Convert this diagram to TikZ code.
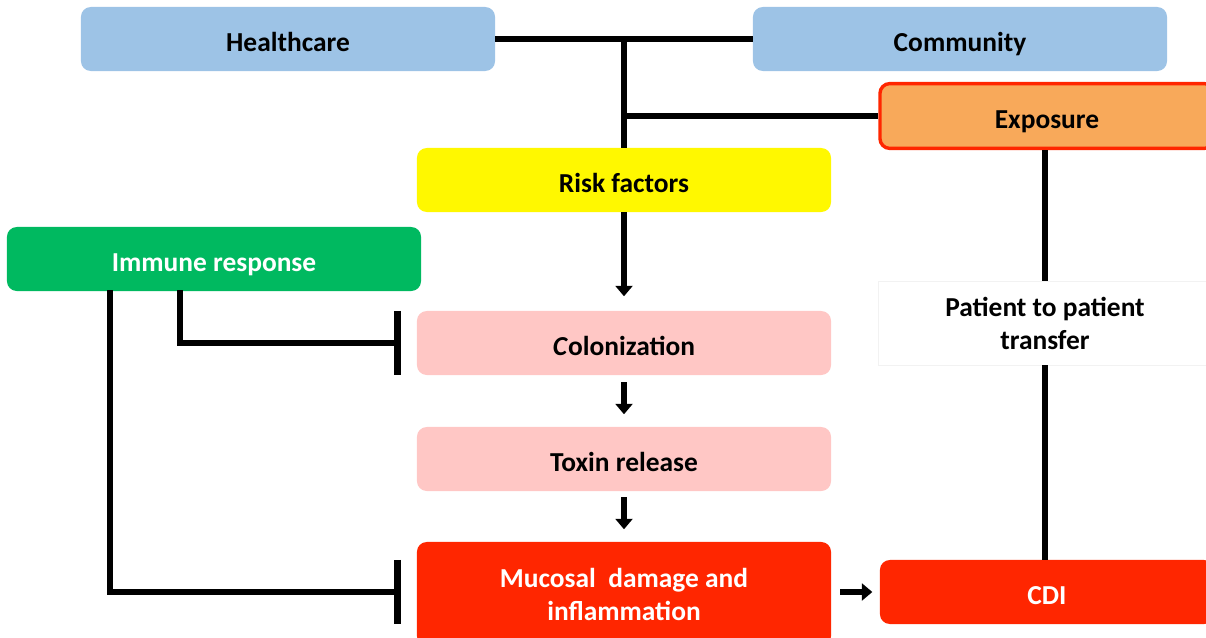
\documentclass[tikz,border=0pt]{standalone}
\usepackage{fontspec}
\setmainfont{Carlito}
\usetikzlibrary{arrows.meta}
\definecolor{careblue}{RGB}{157,195,230}
\definecolor{expofill}{RGB}{248,169,90}
\definecolor{cdired}{RGB}{255,38,0}
\definecolor{riskyellow}{RGB}{255,248,0}
\definecolor{immgreen}{RGB}{0,185,96}
\definecolor{stagepink}{RGB}{255,199,197}
\tikzset{
  box/.style   ={rounded corners=7pt, minimum width=10.35cm, minimum height=1.6cm,
                 inner sep=0pt, align=center, font=\fontsize{19.5}{23.5}\selectfont\bfseries},
  oneline/.style ={box, text height=0.6cm, text depth=0pt},
  link/.style  ={line width=4.6pt},
  step arrow/.style ={line width=4.8pt, -{Triangle[width=0.42cm, length=0.26cm]}},
  block/.style ={line width=4.4pt, -{Bar[width=1.6cm, line width=4.4pt]}},
}

\begin{document}
\begin{tikzpicture}[x=0.025cm, y=-0.025cm]
  \useasboundingbox (0,0) rectangle (1206,638);

  % top row
  \node[oneline, fill=careblue] (hc) at (288,39) {Healthcare};
  \node[oneline, fill=careblue] (comm) at (960,39) {Community};
  \node[oneline, fill=expofill, draw=cdired, line width=2.4pt, minimum width=8.35cm,
        minimum height=1.62cm] (expo) at (1047,116) {Exposure};

  % central chain
  \node[oneline, fill=riskyellow] (risk) at (624,180) {Risk factors};
  \node[oneline, fill=immgreen, text=white] (immune) at (214,259) {Immune response};
  \node[oneline, fill=stagepink] (colon) at (624,343) {\textit{C}olonization};
  \node[oneline, fill=stagepink] (toxin) at (624,459) {Toxin release};
  \node[box, fill=cdired, text=white, minimum height=2.6cm] (mucosal) at (624,594)
    {Mucosal~~damage and\\inflammation};
  \node[oneline, fill=cdired, text=white, minimum width=8.35cm] (cdi) at (1047,592) {CDI};

  % right side
  \node[box, fill=white, draw=black!5, line width=0.4pt, rounded corners=0pt,
        minimum width=8.35cm, minimum height=2.1cm] (transfer) at (1045,323)
    {Patient to patient\\transfer};

  \coordinate (join) at (624,39);
  \coordinate (branch) at (624,116);
  \coordinate (upper) at (180,290);
  \coordinate (lower) at (110,290);
  \draw[link] (hc.east) -- (comm.west);
  \draw[link] (join) -- (risk.north);
  \draw[link] (branch) -- (expo.west);
  \draw[link] (expo.south -| transfer.north) -- (transfer.north);
  \draw[line width=4pt] (transfer.south) -- (transfer.south |- cdi.north);

  \draw[step arrow] (risk.south) -- ++(0,84);
  \draw[step arrow] (colon.south) ++(0,7) -- ++(0,32);
  \draw[step arrow] (toxin.south) ++(0,6) -- ++(0,32);
  \draw[step arrow] (mucosal.east |- cdi) ++(9,0) -- ++(32,0);

  % inhibition
  \draw[block] (upper) |- ([xshift=-0.4cm]colon.west);
  \draw[block] (lower) |- ([xshift=-0.4cm]mucosal.west |- cdi);
\end{tikzpicture}
\end{document}
